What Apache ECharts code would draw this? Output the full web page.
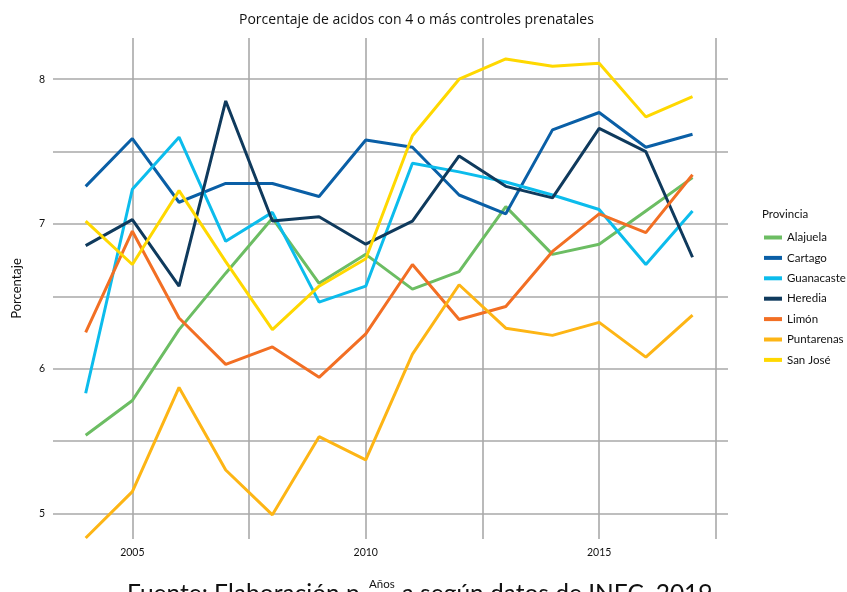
<!DOCTYPE html>
<html>
<head>
<meta charset="utf-8">
<script src="https://cdn.jsdelivr.net/npm/echarts@6/dist/echarts.min.js"></script>
<style>
  html, body { margin: 0; padding: 0; background: #fff; }
  #chart { width: 847px; height: 592px; }
</style>
</head>
<body>
<div id="chart"></div>
<script>
// datos por provincia, 2004-2017
const years = [2004, 2005, 2006, 2007, 2008, 2009, 2010, 2011, 2012, 2013, 2014, 2015, 2016, 2017];
const provincias = ['Alajuela', 'Cartago', 'Guanacaste', 'Heredia', 'Limón', 'Puntarenas', 'San José'];
const colores = ['#6cbd63', '#0a5fa6', '#0cbcec', '#0f3a5d', '#f26f24', '#fdb515', '#ffd800'];

const alajuela   = [5.54, 5.78, 6.27, 6.66, 7.04, 6.59, 6.79, 6.55, 6.67, 7.12, 6.79, 6.86, 7.09, 7.32];
const cartago    = [7.26, 7.59, 7.15, 7.28, 7.28, 7.19, 7.58, 7.53, 7.20, 7.07, 7.65, 7.77, 7.53, 7.62];
const guanacaste = [5.83, 7.24, 7.60, 6.88, 7.08, 6.46, 6.57, 7.42, 7.36, 7.29, 7.20, 7.10, 6.72, 7.09];
const heredia    = [6.85, 7.03, 6.57, 7.85, 7.02, 7.05, 6.86, 7.02, 7.47, 7.26, 7.18, 7.66, 7.50, 6.77];
const limon      = [6.25, 6.95, 6.35, 6.03, 6.15, 5.94, 6.24, 6.72, 6.34, 6.43, 6.81, 7.07, 6.94, 7.34];
const puntarenas = [4.83, 5.15, 5.87, 5.30, 4.99, 5.53, 5.37, 6.10, 6.58, 6.28, 6.23, 6.32, 6.08, 6.37];
const sanJose    = [7.02, 6.72, 7.23, 6.74, 6.27, 6.57, 6.76, 7.61, 8.00, 8.14, 8.09, 8.11, 7.74, 7.88];

const xGrid = [2005, 2007.5, 2010, 2012.5, 2015, 2017.5];
const xLabels = [2005, 2010, 2015];
const yGrid = [5, 5.5, 6, 6.5, 7, 7.5, 8];
const yLabels = [5, 6, 7, 8];

const valores = [alajuela, cartago, guanacaste, heredia, limon, puntarenas, sanJose];
const font = 'Lato';
const gridColor = '#a9a9a9';

let chart = echarts.init(document.getElementById('chart'));

let option = {
  backgroundColor: '#fff',
  animation: false,
  textStyle: { fontFamily: font },
  title: [
    { text: 'Porcentaje de acidos con 4 o más controles prenatales', left: 234, top: 8,
      textStyle: { fontFamily: 'Open Sans', fontSize: 14, fontWeight: 'normal', color: '#111' } },
    { text: 'Provincia', left: 757, top: 203,
      textStyle: { fontFamily: font, fontSize: 11.5, fontWeight: 'normal', color: '#111' } }
  ],
  legend: {
    orient: 'vertical',
    left: 759,
    top: 225.5,
    itemWidth: 18,
    itemHeight: 4,
    itemGap: 6.4,
    icon: 'rect',
    data: provincias,
    textStyle: { fontFamily: font, fontSize: 11.5, color: '#111', lineHeight: 14 }
  },
  grid: { left: 53, right: 119, top: 38, bottom: 53, outerBoundsMode: 'none', containLabel: false },
  xAxis: {
    type: 'value',
    min: 2003.3,
    max: 2017.76,
    axisLine: { show: false },
    axisTick: { show: false, customValues: xGrid },
    axisLabel: { customValues: xLabels, fontSize: 10.5, color: '#111', margin: 8,
                 formatter: (v) => String(v) },
    splitLine: { show: true, lineStyle: { color: gridColor, width: 1.6 } }
  },
  yAxis: {
    type: 'value',
    min: 4.823,
    max: 8.285,
    name: 'Porcentaje',
    nameLocation: 'middle',
    nameGap: 30,
    nameTextStyle: { fontFamily: font, fontSize: 13, color: '#111' },
    axisLine: { show: false },
    axisTick: { show: false, customValues: yGrid },
    axisLabel: { customValues: yLabels, fontSize: 10.5, color: '#111', margin: 8 },
    splitLine: { show: true, lineStyle: { color: gridColor, width: 1.6 } }
  },
  series: provincias.map((p, i) => ({
    name: p,
    type: 'line',
    data: years.map((y, j) => [y, valores[i][j]]),
    symbol: 'none',
    color: colores[i],
    lineStyle: { width: 3, color: colores[i] }
  })),
  graphic: [
    { type: 'text', left: 127, top: 582, z: 50,
      style: { text: 'Fuente: Elaboración propia según datos de INEC, 2019',
               font: '24.5px Lato', fill: '#111' } },
    { type: 'text', left: 361, top: 577, z: 60,
      style: { text: 'Años', font: '11.5px Lato', fill: '#111',
               backgroundColor: '#fff', padding: [1, 8, 10, 8] } }
  ]
};

chart.setOption(option);
</script>
</body>
</html>
